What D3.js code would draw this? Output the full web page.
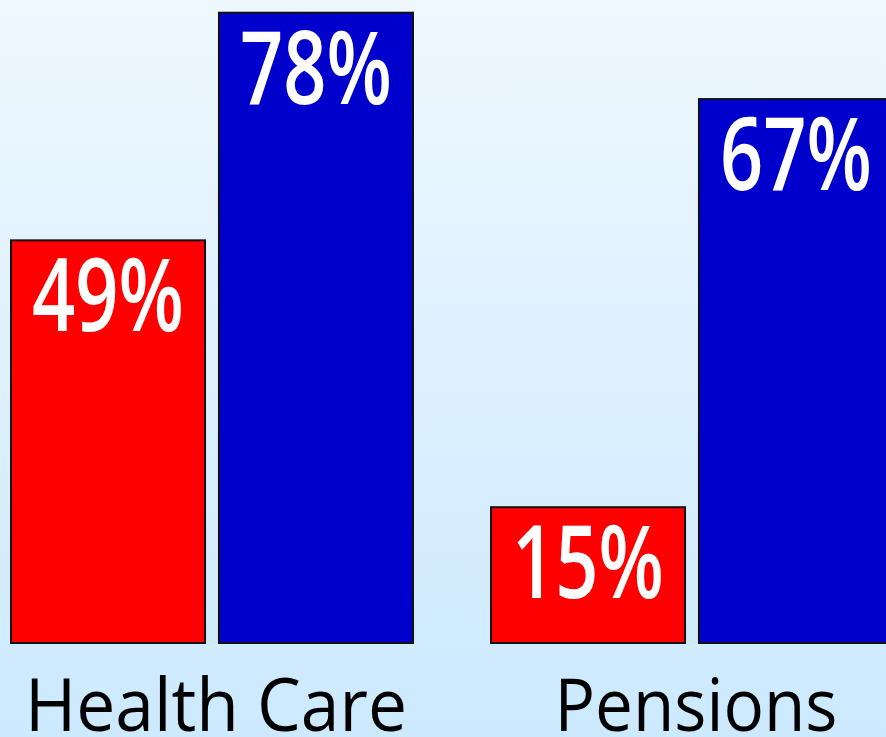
<!DOCTYPE html>
<html>
<head>
<meta charset="utf-8">
<script src="https://cdn.jsdelivr.net/npm/d3@7"></script>
<style>
  html, body { margin: 0; padding: 0; overflow: hidden; }
  svg { display: block; }
</style>
</head>
<body>
<svg width="886" height="737"></svg>
<script>
// Data
const categories = ["Health Care", "Pensions"];
const series = ["red", "blue"];
const redValues = [49, 15];
const blueValues = [78, 67];
const valueLabels = [["49%", "78%"], ["15%", "67%"]];

const width = 886;
const height = 737;
const svg = d3.select("svg");

// Background gradient
const defs = svg.append("defs");
const grad = defs.append("linearGradient")
    .attr("id", "bg")
    .attr("x1", 0).attr("y1", 0)
    .attr("x2", 0).attr("y2", 1);
grad.append("stop").attr("offset", "0%").attr("stop-color", "#eff8ff");
grad.append("stop").attr("offset", "100%").attr("stop-color", "#cce9fe");

svg.append("rect")
    .attr("width", width)
    .attr("height", height)
    .attr("fill", "url(#bg)");

const colors = d3.scaleOrdinal()
    .domain(series)
    .range(["#ff0000", "#0000cc"]);

const x0 = d3.scaleBand()
    .domain(categories)
    .range([11, 893])
    .paddingInner(0.1625)
    .paddingOuter(0);

const x1 = d3.scaleBand()
    .domain(series)
    .range([0, x0.bandwidth()])
    .paddingInner(0.067);

// axis floor sits a little below zero in the original chart
const yMin = -2.3;
const y = d3.scaleLinear()
    .domain([yMin, 78.6])
    .range([643, 8]);

const rows = categories.map((c, i) => ({
    category: c,
    bars: [
        { key: "red", value: redValues[i], label: valueLabels[i][0] },
        { key: "blue", value: blueValues[i], label: valueLabels[i][1] }
    ]
}));

const group = svg.append("g")
    .selectAll("g")
    .data(rows)
    .join("g")
    .attr("transform", d => `translate(${x0(d.category)},0)`);

group.selectAll("rect")
    .data(d => d.bars)
    .join("rect")
    .attr("x", d => x1(d.key))
    .attr("y", d => y(d.value))
    .attr("width", x1.bandwidth())
    .attr("height", d => y(yMin) - y(d.value))
    .attr("fill", d => colors(d.key))
    .attr("stroke", "#111")
    .attr("stroke-width", 2);

group.selectAll("text.value")
    .data(d => d.bars)
    .join("text")
    .attr("class", "value")
    .attr("x", d => x1(d.key) + x1.bandwidth() / 2)
    .attr("y", d => y(d.value) + 91)
    .attr("text-anchor", "middle")
    .attr("fill", "#fff")
    .attr("font-family", "'Open Sans', 'DejaVu Sans', sans-serif")
    .attr("font-size", 102)
    .attr("font-weight", 600)
    .attr("textLength", 152)
    .attr("lengthAdjust", "spacingAndGlyphs")
    .text(d => d.label);

// Category labels
svg.append("g")
    .selectAll("text")
    .data(categories)
    .join("text")
    .attr("x", d => x0(d) + x0.bandwidth() / 2 + 4)
    .attr("y", 731)
    .attr("text-anchor", "middle")
    .attr("fill", "#000")
    .attr("font-family", "'Open Sans', 'DejaVu Sans', sans-serif")
    .attr("font-size", 74)
    .attr("textLength", d => d === "Health Care" ? 382 : 283)
    .attr("lengthAdjust", "spacingAndGlyphs")
    .text(d => d);
</script>
</body>
</html>
